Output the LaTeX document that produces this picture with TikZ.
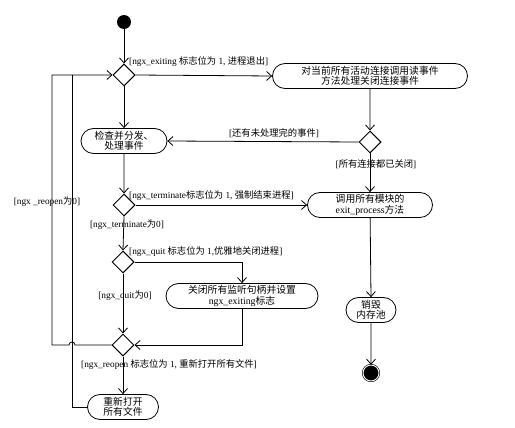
\documentclass[tikz,border=0pt]{standalone}
\usepackage{fontspec}
\setmainfont{Liberation Serif}
\newfontfamily\cjk{Noto Sans CJK SC}
\newcommand{\zh}[1]{{\cjk #1}}
\usetikzlibrary{shapes.geometric,shapes.misc,arrows.meta}

\begin{document}
\begin{tikzpicture}[x=1pt,y=-1pt,>={Straight Barb[length=5pt,width=9pt]}]
  \tikzstyle{every node}=[inner sep=1pt]
  \tikzstyle{act}=[rounded rectangle, draw, line width=0.8pt, align=center, minimum height=25pt, font=\fontsize{9.8}{10.5}\selectfont]
  \tikzstyle{choice}=[diamond, draw, line width=1pt, minimum size=22pt, inner sep=0pt]
  \tikzstyle{guard}=[font=\fontsize{9.3}{10}\selectfont]
  \tikzstyle{flow}=[->, line width=0.8pt]
  \useasboundingbox (0,0) rectangle (515,428);

  % activities and choices
  \node (Start)[circle, fill=black, minimum size=14pt, inner sep=0pt] at (124,22) {};
  \node (Exit)[choice] at (124,75) {};
  \node (Read)[act, minimum width=197pt] at (370,76) {\zh{对当前所有活动连接调用读事件}\\\zh{方法处理关闭连接事件}};
  \node (Conn)[choice] at (370,142) {};
  \node (Events)[act, minimum width=88pt] at (124,141) {\zh{检查并分发、}\\\zh{处理事件}};
  \node (Term)[choice] at (124,205) {};
  \node (Modules)[act, minimum width=127pt] at (370,205) {\zh{调用所有模块的}\\exit\_process\zh{方法}};
  \node (Pool)[act, minimum width=52pt] at (371,310) {\zh{销毁}\\\zh{内存池}};
  \node (End)[circle, draw, fill=black, line width=0.6pt, double=white, double distance=0.9pt, minimum size=16pt, inner sep=0pt] at (371,373) {};
  \node (Quit)[choice] at (123,262) {};
  \node (Listen)[act, minimum width=154pt] at (242,296) {\zh{关闭所有监听句柄并设置}\\ngx\_exiting\zh{标志}};
  \node (Reopen)[choice] at (123,345) {};
  \node (Files)[act, minimum width=73pt] at (123,407) {\zh{重新打开}\\\zh{所有文件}};
  \coordinate (Join) at (72,75);

  % guards
  \node (gExit)[guard, anchor=west] at (128,62) {[ngx\_exiting \zh{标志位为} 1, \zh{进程退出}]};
  \node (gLeft)[guard] at (274,133) {[\zh{还有未处理完的事件}]};
  \node (gClosed)[guard] at (376,164) {[\zh{所有连接都已关闭}]};
  \node (gTerm)[guard, anchor=west] at (128,196) {[ngx\_terminate\zh{标志位为} 1, \zh{强制结束进程}]};
  \node (gTerm0)[guard] at (127,225) {[ngx\_terminate\zh{为}0]};
  \node (gQuit)[guard, anchor=west] at (128,252) {[ngx\_quit \zh{标志位为} 1,\zh{优雅地关闭进程}]};
  \node (gQuit0)[guard] at (125,296) {[ngx\_quit\zh{为}0]};
  \node (gReopen)[guard, anchor=west] at (80,365) {[ngx\_reopen \zh{标志位为} 1, \zh{重新打开所有文件}]};
  \node (gReopen0)[guard] at (47,202) {[ngx \_reopen\zh{为}0]};

  % flows
  \draw[flow] (Start) -- (Exit.north);
  \draw[flow] (Exit.east) -- (Read.west);
  \draw[flow] (Read) -- (Conn.north);
  \draw[flow] (Conn.west) -- (Events.east);
  \draw[flow] (Conn.south) -- (Modules.north);
  \draw[flow] (Modules) -- (Pool.north);
  \draw[flow] (Pool) -- (End.north);
  \draw[flow] (Exit.south) -- (Events.north);
  \draw[flow] (Events) -- (Term.north);
  \draw[flow] (Term.east) -- (Modules.west);
  \draw[flow] (Term.south) -- (Quit.north);
  \draw[flow] (Quit.east) -| (Listen.north);
  \draw[flow] (Quit.south) -- (Reopen.north);
  \draw[flow] (Listen.south) |- (Reopen.east);
  \draw[flow] (Reopen.south) -- (Files.north);
  \draw[flow] (Reopen.west) -- (75,345) arc[start angle=0, end angle=180, radius=3pt] -- (52,345) |- (Exit.west);
  \draw[line width=0.8pt] (Files.west) -| (Join);
\end{tikzpicture}
\end{document}
